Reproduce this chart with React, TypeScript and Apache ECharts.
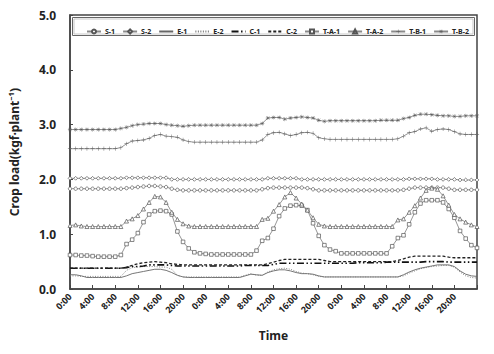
import React, { useEffect, useRef } from 'react';
import * as echarts from 'echarts';

// hourly categories over three days
const TIME_LABELS: string[] = Array.from({ length: 73 }, (_, i) => `${i % 24}:00`);

const S1 = [1.83,1.83,1.83,1.83,1.83,1.83,1.83,1.83,1.83,1.83,
  1.84,1.85,1.86,1.87,1.88,1.88,1.87,1.86,1.83,1.81,
  1.80,1.80,1.80,1.80,1.80,1.80,1.80,1.80,1.80,1.80,1.80,1.80,1.80,1.80,
  1.82,1.84,1.85,1.85,1.85,1.85,1.85,1.85,1.84,1.82,
  1.80,1.80,1.80,1.80,1.80,1.80,1.80,1.80,1.80,1.80,1.80,1.80,1.80,1.80,1.80,
  1.81,1.83,1.85,1.85,1.85,1.85,1.85,1.85,1.83,
  1.81,1.81,1.81,1.81,1.81];

const S2 = [2.02,2.02,2.02,2.02,2.02,2.02,2.02,2.02,2.02,2.02,
  2.03,2.03,2.03,2.03,2.03,2.03,2.03,2.03,
  2.00,2.00,2.00,2.00,2.00,2.00,2.00,2.00,2.00,2.00,2.00,2.00,2.00,2.00,2.00,2.00,2.00,
  2.02,2.02,2.02,2.02,2.02,2.02,
  2.00,2.00,2.00,2.00,2.00,2.00,2.00,2.00,2.00,2.00,2.00,2.00,2.00,2.00,2.00,2.00,2.00,2.00,2.00,
  2.01,2.01,2.01,2.01,2.01,
  2.00,2.00,2.00,2.00,1.99,1.99,1.99,1.99];

const E1 = [0.26,0.26,0.24,
  0.21,0.21,0.21,0.21,0.21,0.21,0.21,
  0.24,0.28,0.30,0.32,0.34,0.36,0.36,0.34,0.30,0.25,0.22,
  0.21,0.21,0.21,0.21,0.21,0.21,0.21,0.21,0.21,0.21,
  0.24,0.27,0.26,0.25,0.30,0.33,0.35,0.35,0.33,0.30,0.28,0.28,0.27,0.24,0.22,
  0.22,0.22,0.22,0.22,0.22,0.22,0.22,0.22,0.22,0.22,0.22,0.22,0.22,
  0.26,0.31,0.35,0.38,0.40,0.42,0.44,0.44,0.44,0.41,0.33,0.27,0.24,0.23];

const E2 = [0.24,0.24,0.23,
  0.23,0.23,0.23,0.23,0.23,0.23,0.23,
  0.34,0.39,0.40,0.41,0.41,0.41,0.40,0.40,0.36,0.25,0.22,
  0.22,0.22,0.22,0.22,0.22,0.22,0.22,0.22,0.22,0.22,
  0.25,0.28,0.25,0.25,0.31,0.35,0.37,0.38,0.36,0.32,0.29,0.28,0.26,0.23,0.22,
  0.22,0.22,0.22,0.22,0.22,0.22,0.22,0.22,0.22,0.22,0.22,0.22,0.22,
  0.24,0.29,0.33,0.37,0.39,0.41,0.42,0.43,0.43,0.40,0.31,0.24,0.21,0.20];

const C1 = [0.38,0.38,0.38,0.38,0.38,0.38,0.38,0.38,0.38,0.38,
  0.39,0.41,0.41,0.42,
  0.44,0.44,0.44,0.44,
  0.43,
  0.42,0.42,0.42,0.42,0.42,0.42,0.42,0.42,0.42,0.42,0.42,0.42,
  0.43,0.43,0.43,0.43,0.43,
  0.45,
  0.47,0.47,0.47,0.47,0.47,0.47,0.47,0.47,0.47,0.47,0.47,0.47,0.47,0.47,
  0.48,0.48,0.48,0.48,0.48,
  0.49,0.49,0.49,0.49,0.49,0.49,0.49,
  0.50,0.50,0.50,0.50,
  0.49,0.49,0.49,0.49,0.49,0.49];

const C2 = [0.38,0.38,0.38,0.38,0.38,0.38,0.38,0.38,0.38,0.38,
  0.40,0.43,0.46,0.48,0.49,0.50,0.49,0.48,0.46,0.45,
  0.44,0.44,0.44,0.44,0.44,0.44,0.44,0.44,0.44,0.44,0.44,0.44,0.44,0.44,0.44,
  0.46,0.49,0.52,
  0.54,0.54,0.54,0.54,0.54,0.54,0.54,
  0.52,
  0.50,0.50,0.50,0.50,0.50,0.50,0.50,0.50,0.50,0.50,0.50,0.50,
  0.52,0.55,0.58,
  0.60,0.60,0.60,0.60,0.60,0.60,
  0.58,
  0.57,0.57,0.57,0.57,0.57];

const TA1 = [0.62,0.62,0.61,0.61,0.60,0.59,0.59,0.59,0.59,0.62,
  0.82,0.90,1.02,1.22,1.36,1.42,1.43,1.42,1.36,1.05,0.86,0.74,0.67,0.65,0.64,
  0.63,0.63,0.63,0.63,0.63,0.63,0.63,0.63,
  0.70,0.88,0.93,1.10,1.33,1.47,1.52,1.53,1.52,1.44,1.20,0.97,0.80,0.72,0.69,
  0.65,0.65,0.65,0.65,0.65,0.65,0.65,0.65,0.65,
  0.78,0.93,0.98,1.18,1.40,1.56,1.62,1.62,1.62,1.58,1.46,1.30,1.06,0.92,0.80,0.75];

const TA2 = [1.16,1.17,1.15,
  1.14,1.14,1.14,1.14,1.14,1.14,1.14,
  1.24,1.28,1.34,1.46,1.58,1.69,1.68,1.58,1.40,1.27,1.19,1.15,
  1.14,1.14,1.14,1.14,1.14,1.14,1.14,1.14,1.14,1.14,1.14,1.14,
  1.27,1.29,1.42,1.54,1.68,1.76,1.66,1.55,1.44,1.30,1.18,1.15,
  1.14,1.14,1.14,1.14,1.14,1.14,1.14,1.14,1.14,1.14,1.14,
  1.14,1.26,1.28,1.40,1.52,1.66,1.80,1.84,1.82,1.70,1.53,1.36,1.28,1.22,1.17,1.14];

const TB1 = [2.56,2.56,2.56,2.56,2.56,2.56,2.56,2.56,2.56,
  2.58,2.65,2.70,2.71,2.72,2.75,2.80,2.82,2.79,2.78,2.77,2.72,2.69,
  2.68,2.68,2.68,2.68,2.68,2.68,2.68,2.68,2.68,2.68,2.68,2.68,
  2.72,2.82,2.85,2.86,2.83,2.80,2.82,2.85,2.86,2.84,2.76,2.74,
  2.73,2.73,2.73,2.73,2.73,2.73,2.73,2.73,2.73,2.73,2.73,2.73,
  2.74,2.79,2.85,2.87,2.92,2.94,2.88,2.91,2.92,2.91,2.87,2.83,2.82,2.82,2.82];

const TB2 = [2.91,2.91,2.91,2.91,2.91,2.91,2.91,2.91,2.91,
  2.93,2.95,2.98,3.00,3.01,3.02,3.02,3.02,3.00,2.99,2.98,2.97,2.98,
  2.99,2.99,2.99,2.99,2.99,2.99,2.99,2.99,2.99,2.99,2.99,2.99,
  3.02,3.12,3.13,3.13,3.10,3.12,3.13,3.14,3.13,3.12,3.08,3.06,
  3.07,3.07,3.07,3.07,3.07,3.07,3.07,3.07,3.07,
  3.08,3.08,3.08,3.08,
  3.11,3.13,3.17,3.19,3.19,3.18,3.17,3.16,3.16,3.15,3.15,3.16,3.16,3.16];

const Y_TICKS = [0, 1, 2, 3, 4, 5];
const LEGEND_NAMES = ['S-1', 'S-2', 'E-1', 'E-2', 'C-1', 'C-2', 'T-A-1', 'T-A-2', 'T-B-1', 'T-B-2'];
const NO_MARK = ['E-1', 'E-2', 'C-1', 'C-2'];

const FONT = '"Noto Sans", "DejaVu Sans", sans-serif';
const PLUS = 'path://M4.5,0H5.5V4.5H10V5.5H5.5V10H4.5V5.5H0V4.5H4.5Z';
const CROSS = 'path://M4.6,0H5.4V4L8.6,0.8L9.2,1.4L6,4.6H10V5.4H6L9.2,8.6L8.6,9.2L5.4,6V10H4.6V6L1.4,9.2L0.8,8.6L4,5.4H0V4.6H4L0.8,1.4L1.4,0.8L4.6,4Z';

function lineSeries(name: string, data: number[], opts: any) {
  const hollow = !!opts.hollow;
  return {
    name,
    type: 'line',
    data,
    smooth: false,
    showSymbol: opts.symbol !== 'none',
    showAllSymbol: true,
    symbol: opts.symbol,
    symbolSize: opts.symbolSize ?? 3.2,
    itemStyle: hollow
      ? { color: '#fff', borderColor: '#555', borderWidth: 0.7 }
      : { color: opts.markColor ?? '#555', borderWidth: 0 },
    lineStyle: { color: opts.lineColor ?? '#8a8a8a', width: opts.width ?? 0.9, type: opts.type ?? 'solid' },
    emphasis: { disabled: true },
    z: opts.z ?? 2,
  };
}

export default function App() {
  const ref = useRef<HTMLDivElement>(null);
  useEffect(() => {
    const chart = echarts.init(ref.current!, null, { renderer: 'svg' });
    const option: any = {
      animation: false,
      backgroundColor: '#fff',
      textStyle: { fontFamily: FONT },
      grid: { left: 70, right: 17, top: 15, bottom: 65, show: true, borderColor: '#444', borderWidth: 1.5 },
      graphic: [
        { type: 'rect', shape: { x: 72.5, y: 17.5, width: 402, height: 18 }, style: { fill: '#fff', stroke: '#666', lineWidth: 1 }, z: 5 },
        { type: 'rect', shape: { x: 74, y: 19, width: 399, height: 15 }, style: { fill: 'none', stroke: '#bbb', lineWidth: 0.8 }, z: 5 },
      ],
      legend: {
        left: 81, top: 23, z: 10,
        itemWidth: 14, itemHeight: 5, itemGap: 7,
        textStyle: { fontSize: 7, fontWeight: 'bold', color: '#222', fontFamily: FONT, padding: [0, 0, 0, -1] },
        data: LEGEND_NAMES.map((n) => (NO_MARK.includes(n) ? { name: n, itemStyle: { opacity: 0 } } : { name: n })),
      },
      xAxis: {
        type: 'category',
        data: TIME_LABELS,
        boundaryGap: false,
        name: 'Time', nameLocation: 'middle', nameGap: 40,
        nameTextStyle: { fontSize: 12, fontWeight: 'bold', color: '#222', fontFamily: FONT },
        axisLine: { lineStyle: { color: '#444', width: 1.5 } },
        axisTick: { inside: true, interval: 3, length: 4, lineStyle: { color: '#444' } },
        axisLabel: {
          interval: 3, rotate: 45, fontSize: 9, fontWeight: 'bold', color: '#222', margin: 6, fontFamily: FONT,
          formatter: (v: string, i: number) => (i === 72 ? '' : v),
        },
        splitLine: { show: false },
      },
      yAxis: {
        type: 'value', min: Y_TICKS[0], max: Y_TICKS[Y_TICKS.length - 1], interval: 1,
        name: 'Crop load(kgf·plant⁻¹)', nameLocation: 'middle', nameGap: 50,
        nameTextStyle: { fontSize: 12, fontWeight: 'bold', color: '#222', fontFamily: FONT },
        axisLine: { show: true, lineStyle: { color: '#444', width: 1.5 } },
        axisTick: { show: true, inside: true, length: 3, lineStyle: { color: '#444' } },
        axisLabel: { fontSize: 12, fontWeight: 'bold', color: '#222', margin: 14, fontFamily: FONT, formatter: (v: number) => v.toFixed(1) },
        splitLine: { show: false },
      },
      series: [
        lineSeries('S-1', S1, { symbol: 'circle', symbolSize: 3.4, hollow: true }),
        lineSeries('S-2', S2, { symbol: 'diamond', symbolSize: 3.8, hollow: true }),
        lineSeries('E-1', E1, { symbol: 'none', lineColor: '#666', markColor: '#666' }),
        lineSeries('E-2', E2, { symbol: 'none', lineColor: '#777', markColor: '#777', type: [1, 1.5] }),
        lineSeries('C-1', C1, { symbol: 'none', lineColor: '#111', markColor: '#111', width: 1.6, type: [7, 2.5, 1.5, 2.5, 1.5, 2.5] }),
        lineSeries('C-2', C2, { symbol: 'none', lineColor: '#222', markColor: '#222', width: 1.3, type: [3, 2] }),
        lineSeries('T-A-1', TA1, { symbol: 'rect', symbolSize: 3.6, hollow: true }),
        lineSeries('T-A-2', TA2, { symbol: 'triangle', symbolSize: 4, hollow: true }),
        lineSeries('T-B-1', TB1, { symbol: PLUS, symbolSize: 4.2, markColor: '#555' }),
        lineSeries('T-B-2', TB2, { symbol: CROSS, symbolSize: 4.2, markColor: '#555' }),
      ],
    };
    chart.setOption(option);
    return () => chart.dispose();
  }, []);
  return <div ref={ref} style={{ position: 'fixed', left: 0, top: 0, width: 494, height: 354 }} />;
}
